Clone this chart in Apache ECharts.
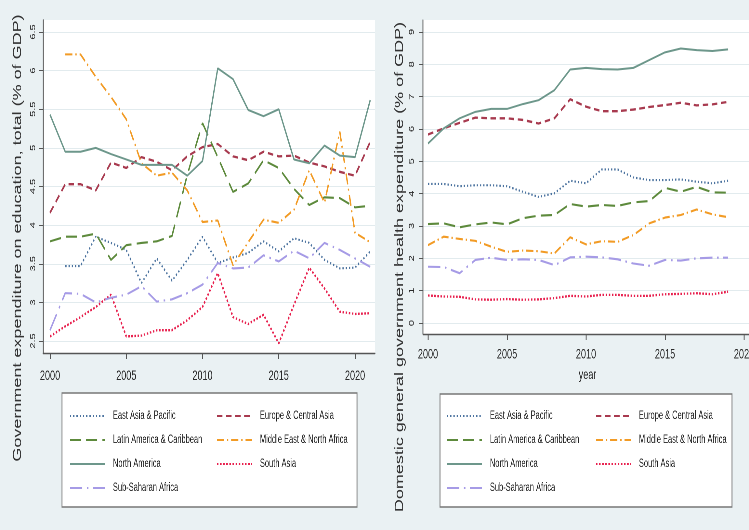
<!DOCTYPE html>
<html>
<head>
<meta charset="utf-8">
<script src="https://cdn.jsdelivr.net/npm/echarts@6/dist/echarts.min.js"></script>
<style>
  html, body { margin: 0; padding: 0; background: #eaf1f3; overflow: hidden; }
  #frame { width: 749px; height: 530px; overflow: hidden; }
  /* The figure is drawn wide and then condensed horizontally */
  #chart { width: 1152px; height: 530px; transform: scaleX(0.650174); transform-origin: 0 0; }
</style>
</head>
<body>
<div id="frame"><div id="chart"></div></div>
<script>
// Regions shown in both panels
const regions = [
  'East Asia & Pacific', 'Europe & Central Asia', 'Latin America & Caribbean',
  'Middle East & North Africa', 'North America', 'South Asia', 'Sub-Saharan Africa'
];

// Left panel: education spending, 2000-2021
const eduYears = [2000, 2001, 2002, 2003, 2004, 2005, 2006, 2007, 2008, 2009, 2010,
                  2011, 2012, 2013, 2014, 2015, 2016, 2017, 2018, 2019, 2020, 2021];
const eduEastAsia   = [null, 3.47, 3.47, 3.85, 3.77, 3.68, 3.25, 3.57, 3.28, 3.55, 3.85, 3.51, 3.58, 3.64, 3.79, 3.66, 3.83, 3.77, 3.55, 3.44, 3.45, 3.66];
const eduEurope     = [4.16, 4.53, 4.53, 4.45, 4.81, 4.74, 4.88, 4.82, 4.71, 4.89, 5.01, 5.05, 4.89, 4.84, 4.95, 4.89, 4.90, 4.81, 4.76, 4.69, 4.64, 5.08];
const eduLatin      = [3.79, 3.85, 3.85, 3.89, 3.55, 3.74, 3.77, 3.79, 3.86, 4.65, 5.32, 4.88, 4.43, 4.54, 4.84, 4.74, 4.47, 4.26, 4.36, 4.35, 4.23, 4.25];
const eduMidEast    = [null, 6.21, 6.21, 5.92, 5.66, 5.37, 4.80, 4.64, 4.68, 4.45, 4.04, 4.06, 3.48, 3.78, 4.07, 4.03, 4.20, 4.71, 4.29, 5.21, 3.90, 3.78];
const eduNorthAm    = [5.43, 4.95, 4.95, 5.00, 4.92, 4.85, 4.78, 4.78, 4.78, 4.64, 4.83, 6.03, 5.89, 5.49, 5.41, 5.50, 4.85, 4.80, 5.03, 4.90, 4.88, 5.62];
const eduSouthAsia  = [2.56, 2.69, 2.81, 2.94, 3.10, 2.56, 2.57, 2.64, 2.64, 2.77, 2.94, 3.38, 2.81, 2.72, 2.84, 2.47, 2.97, 3.45, 3.18, 2.88, 2.85, 2.86];
const eduSubSahara  = [2.64, 3.12, 3.11, 3.00, 3.06, 3.10, 3.21, 3.01, 3.04, 3.12, 3.23, 3.51, 3.44, 3.45, 3.61, 3.53, 3.67, 3.57, 3.77, 3.68, 3.57, 3.46];

// Right panel: government health spending, 2000-2019
const hlthYears = [2000, 2001, 2002, 2003, 2004, 2005, 2006, 2007, 2008, 2009,
                   2010, 2011, 2012, 2013, 2014, 2015, 2016, 2017, 2018, 2019];
const hlthEastAsia  = [4.30, 4.30, 4.23, 4.26, 4.26, 4.23, 4.06, 3.90, 4.01, 4.40, 4.32, 4.75, 4.75, 4.50, 4.42, 4.42, 4.44, 4.37, 4.32, 4.40];
const hlthEurope    = [5.83, 6.02, 6.19, 6.35, 6.33, 6.33, 6.28, 6.17, 6.33, 6.92, 6.69, 6.55, 6.55, 6.60, 6.68, 6.74, 6.81, 6.73, 6.76, 6.84];
const hlthLatin     = [3.06, 3.08, 2.96, 3.05, 3.11, 3.05, 3.24, 3.32, 3.34, 3.68, 3.60, 3.65, 3.62, 3.73, 3.77, 4.18, 4.06, 4.21, 4.04, 4.03];
const hlthMidEast   = [2.41, 2.67, 2.60, 2.54, 2.36, 2.20, 2.24, 2.22, 2.15, 2.65, 2.43, 2.53, 2.51, 2.72, 3.08, 3.26, 3.34, 3.51, 3.36, 3.27];
const hlthNorthAm   = [5.55, 6.02, 6.33, 6.53, 6.62, 6.62, 6.77, 6.89, 7.20, 7.84, 7.89, 7.85, 7.84, 7.89, 8.13, 8.37, 8.49, 8.44, 8.41, 8.46];
const hlthSouthAsia = [0.85, 0.82, 0.81, 0.73, 0.72, 0.74, 0.72, 0.73, 0.77, 0.84, 0.82, 0.87, 0.87, 0.84, 0.84, 0.89, 0.90, 0.92, 0.89, 0.97];
const hlthSubSahara = [1.74, 1.73, 1.54, 1.95, 2.02, 1.95, 1.97, 1.95, 1.79, 2.03, 2.05, 2.03, 1.97, 1.84, 1.77, 1.95, 1.93, 2.00, 2.02, 2.02];

// Tick labels
const yearTicks = [2000, 2005, 2010, 2015, 2020];
const eduTicks = [2.5, 3, 3.5, 4, 4.5, 5, 5.5, 6, 6.5];
const hlthTicks = [0, 1, 2, 3, 4, 5, 6, 7, 8, 9];

const eduSeries = [eduEastAsia, eduEurope, eduLatin, eduMidEast, eduNorthAm, eduSouthAsia, eduSubSahara];
const hlthSeries = [hlthEastAsia, hlthEurope, hlthLatin, hlthMidEast, hlthNorthAm, hlthSouthAsia, hlthSubSahara];

// Horizontal condensing factor applied by the stylesheet; X() turns a final
// on-screen horizontal distance into chart units.
const SQUEEZE = 749 / 1152;
const X = px => px / SQUEEZE;

// Line look per region (dash lengths in chart units)
const styles = [
  { color: '#4d74a0', type: [2, 3], width: 2.1 },
  { color: '#a83a4f', type: [8.5, 5.5], width: 2.3 },
  { color: '#5d8a3c', type: [17, 8], width: 2.1 },
  { color: '#f29b25', type: [11, 4.5, 2, 4.5], width: 2.1 },
  { color: '#6d978b', type: 'solid', width: 2.0 },
  { color: '#e8204e', type: [2.4, 2.4], width: 2.3 },
  { color: '#a69be6', type: [19, 7, 2.5, 7], width: 2.1 }
];

const sans = '"Liberation Sans", Arial, sans-serif';

function pairs(xs, ys) {
  return xs.map((x, i) => [x, ys[i]]);
}

const series = [];
regions.forEach((name, i) => {
  const st = styles[i];
  const common = {
    name: name,
    type: 'line',
    symbol: 'none',
    connectNulls: false,
    lineStyle: { color: st.color, type: st.type, width: st.width },
    itemStyle: { color: st.color },
    z: 3
  };
  series.push(Object.assign({}, common, { xAxisIndex: 0, yAxisIndex: 0, data: pairs(eduYears, eduSeries[i]) }));
  series.push(Object.assign({}, common, { xAxisIndex: 1, yAxisIndex: 1, data: pairs(hlthYears, hlthSeries[i]) }));
});

function xAxisDef(gridIndex, min, max, margin) {
  return {
    type: 'value', gridIndex: gridIndex, min: min, max: max,
    axisLine: { show: true, onZero: false, lineStyle: { color: '#555', width: 1.4 } },
    axisTick: { show: true, length: 6, customValues: yearTicks, lineStyle: { color: '#555', width: 1.4 } },
    axisLabel: { customValues: yearTicks, margin: margin, color: '#2b2b2b',
                 fontFamily: sans, fontSize: 14, formatter: v => String(v) },
    splitLine: { show: false }
  };
}

function yAxisDef(gridIndex, min, max, ticks, margin) {
  return {
    type: 'value', gridIndex: gridIndex, min: min, max: max,
    axisLine: { show: true, onZero: false, lineStyle: { color: '#555', width: 1.4 } },
    axisTick: { show: true, length: X(4), customValues: ticks, lineStyle: { color: '#555' } },
    axisLabel: { customValues: ticks, rotate: 90, margin: margin, color: '#2b2b2b',
                 fontFamily: sans, fontSize: 11, formatter: v => String(v) },
    splitLine: { show: true, lineStyle: { color: '#e2ebee', width: 1 } }
  };
}

const legendText = { fontFamily: sans, fontSize: 11.5, color: '#222', padding: [0, 0, 0, X(8) - 5] };
function legendDef(names, left) {
  return {
    data: names, orient: 'vertical', left: X(left), top: 405,
    itemWidth: X(35), itemHeight: 14, itemGap: 12,
    itemStyle: { opacity: 0 },
    selectedMode: false, textStyle: legendText
  };
}

const colA = [regions[0], regions[2], regions[4], regions[6]];
const colB = [regions[1], regions[3], regions[5]];

const titleFont = '18px "Liberation Sans", Arial, sans-serif';

const chart = echarts.init(document.getElementById('chart'), null, { renderer: 'canvas', devicePixelRatio: 2 });
chart.setOption({
  backgroundColor: '#eaf1f3',
  animation: false,
  grid: [
    { left: X(43), top: 20, width: X(332), height: 333, show: true, backgroundColor: '#ffffff',
      borderWidth: 0, outerBoundsMode: 'none' },
    { left: X(423), top: 20, width: X(329), height: 314, show: true, backgroundColor: '#ffffff',
      borderWidth: 0, outerBoundsMode: 'none' }
  ],
  xAxis: [
    xAxisDef(0, 1999.541, 2021.311, 16),
    Object.assign(xAxisDef(1, 1999.684, 2020.506, 13.5), {
      name: 'year', nameLocation: 'middle', nameGap: 34,
      nameTextStyle: { fontFamily: sans, fontSize: 14, color: '#2b2b2b' }
    })
  ],
  yAxis: [
    yAxisDef(0, 2.345, 6.655, eduTicks, X(10) - 5.5),
    yAxisDef(1, -0.34, 9.37, hlthTicks, X(11) - 5.5)
  ],
  legend: [
    legendDef(colA, 66), legendDef(colB, 213),
    legendDef(colA, 443), legendDef(colB, 592)
  ],
  graphic: [
    { type: 'rect', z: 1, shape: { x: X(62), y: 393, width: X(295), height: 114 },
      style: { fill: '#ffffff', stroke: '#777', lineWidth: 1.4 } },
    { type: 'rect', z: 1, shape: { x: X(440), y: 394, width: X(292), height: 113 },
      style: { fill: '#ffffff', stroke: '#777', lineWidth: 1.4 } },
    { type: 'text', z: 5, x: X(18), y: 238, rotation: Math.PI / 2,
      style: { text: 'Government expenditure on education, total (% of GDP)',
               font: titleFont, fill: '#333',
               align: 'center', verticalAlign: 'middle', textAlign: 'center', textVerticalAlign: 'middle' } },
    { type: 'text', z: 5, x: X(400), y: 267, rotation: Math.PI / 2,
      style: { text: 'Domestic general government health expenditure (% of GDP)',
               font: titleFont, fill: '#333',
               align: 'center', verticalAlign: 'middle', textAlign: 'center', textVerticalAlign: 'middle' } }
  ],
  series: series
});
</script>
</body>
</html>
